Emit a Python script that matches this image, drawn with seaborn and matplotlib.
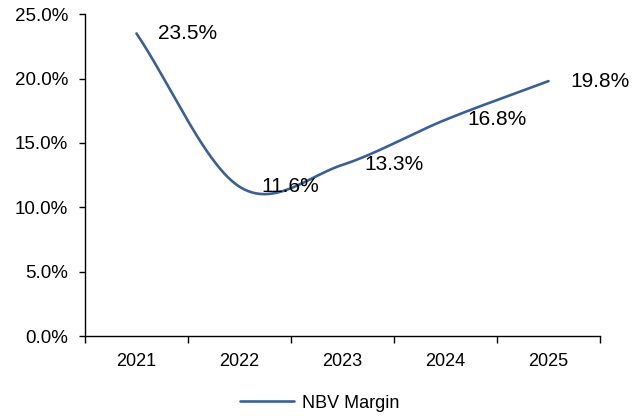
import numpy as np
import pandas as pd
import matplotlib
matplotlib.use("Agg")
import matplotlib.pyplot as plt
from matplotlib.ticker import FixedLocator, FuncFormatter
import seaborn as sns

years = ["2021", "2022", "2023", "2024", "2025"]
nbv_margin = [23.5, 11.6, 13.3, 16.8, 19.8]
series_name = "NBV Margin"
y_ticks = [0, 5, 10, 15, 20, 25]

sns.set_style("white")
plt.rcParams["font.family"] = ["Liberation Sans", "DejaVu Sans"]
plt.rcParams["text.color"] = "black"
plt.rcParams["xtick.color"] = "black"
plt.rcParams["ytick.color"] = "black"
plt.rcParams["axes.labelcolor"] = "black"

LINE_COLOR = "#3B6096"


def smooth(xv, yv, n=60):
    # Catmull-Rom style smoothing (like a spreadsheet "smoothed line")
    xv = np.asarray(xv, float)
    yv = np.asarray(yv, float)
    m = len(yv)
    tang = np.zeros(m)
    for i in range(m):
        if i == 0:
            tang[i] = yv[1] - yv[0]
        elif i == m - 1:
            tang[i] = yv[-1] - yv[-2]
        else:
            tang[i] = (yv[i + 1] - yv[i - 1]) / 2.0
    xs, ys = [], []
    for i in range(m - 1):
        t = np.linspace(0, 1, n, endpoint=(i == m - 2))
        h00 = 2 * t**3 - 3 * t**2 + 1
        h10 = t**3 - 2 * t**2 + t
        h01 = -2 * t**3 + 3 * t**2
        h11 = t**3 - t**2
        ys.append(h00 * yv[i] + h10 * tang[i] + h01 * yv[i + 1] + h11 * tang[i + 1])
        xs.append(xv[i] + t * (xv[i + 1] - xv[i]))
    return np.concatenate(xs), np.concatenate(ys)


pos = np.arange(len(years))
sx, sy = smooth(pos, nbv_margin)
df = pd.DataFrame({"x": sx, "y": sy})

fig = plt.figure(figsize=(6.39, 4.16), dpi=100)
ax = fig.add_axes([0.133, 0.192, 0.806, 0.774])

sns.lineplot(data=df, x="x", y="y", ax=ax, color=LINE_COLOR, linewidth=1.9,
             sort=False, label=series_name, estimator=None, legend=False)

for p, v in zip(pos, nbv_margin):
    ax.annotate(f"{v:.1f}%", xy=(p, v), xytext=(22, 0), textcoords="offset pixels",
                ha="left", va="center", fontsize=15, color="black")

ax.set_xlim(-0.5, len(years) - 0.5)
ax.set_ylim(0, 25)
ax.yaxis.set_major_locator(FixedLocator(y_ticks))
ax.yaxis.set_major_formatter(FuncFormatter(lambda v, _: f"{v:.1f}%"))
ax.xaxis.set_major_locator(FixedLocator(np.arange(-0.5, len(years), 1.0)))
ax.xaxis.set_major_formatter(FuncFormatter(lambda v, _: ""))
ax.xaxis.set_minor_locator(FixedLocator(pos))
ax.set_xticklabels(years, minor=True)
ax.tick_params(axis="x", which="major", direction="out", length=5, width=1, color="black", bottom=True)
ax.tick_params(axis="x", which="minor", length=0, pad=12, labelsize=13, labelcolor="black")
ax.tick_params(axis="y", direction="out", length=4, width=1, color="black", left=True,
               labelsize=13.5, pad=8, labelcolor="black")
ax.set_xlabel("")
ax.set_ylabel("")

for s in ["top", "right"]:
    ax.spines[s].set_visible(False)
for s in ["left", "bottom"]:
    ax.spines[s].set_color("black")
    ax.spines[s].set_linewidth(1.0)

handles = ax.get_lines()[:1]
fig.legend(handles, [series_name], loc="center", bbox_to_anchor=(0.5, 0.031), frameon=False,
           handlelength=3.0, handletextpad=0.4, prop={"size": 13})

fig.savefig("out.png", dpi=100)
